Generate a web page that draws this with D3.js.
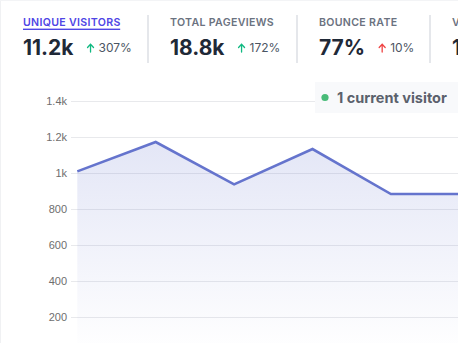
<!DOCTYPE html>
<html><head><meta charset="utf-8">
<script src="https://cdn.jsdelivr.net/npm/d3@7"></script>
<style>
html,body{margin:0;padding:0;background:#fff;overflow:hidden}
svg{display:block;font-family:Inter,"Noto Sans",sans-serif}
</style></head>
<body>
<svg id="c" width="458" height="343"></svg>
<script>
// ---- data ----
const categories = ["Day 1","Day 2","Day 3","Day 4","Day 5","Day 6"];
const visitors = [1009, 1172, 937, 1133, 883, 883];
const yTicks = [200, 400, 600, 800, 1000, 1200, 1400];
const yTickLabels = ["200","400","600","800","1k","1.2k","1.4k"];
const statLabels = ["UNIQUE VISITORS","TOTAL PAGEVIEWS","BOUNCE RATE","VISIT DURATION"];
const statValues = ["11.2k","18.8k","77%","1"];
const statChanges = ["307%","172%","10%",""];
const statGood = [true,true,false,true];
const currentVisitors = "1 current visitor";

const svg = d3.select("#c");
const W = 458, H = 343;

// gradient
const defs = svg.append("defs");
const g = defs.append("linearGradient").attr("id","fillGrad").attr("x1",0).attr("y1",0).attr("x2",0).attr("y2",1);
g.append("stop").attr("offset","0%").attr("stop-color","#6574cd").attr("stop-opacity",0.18);
g.append("stop").attr("offset","100%").attr("stop-color","#6574cd").attr("stop-opacity",0.0);

// card edges
svg.append("rect").attr("x",0).attr("y",0).attr("width",W).attr("height",H).attr("fill","#fff");
svg.append("line").attr("x1",0.5).attr("x2",0.5).attr("y1",0).attr("y2",H).attr("stroke","#f0f1f3");
svg.append("line").attr("x1",0).attr("x2",W).attr("y1",0.5).attr("y2",0.5).attr("stroke","#f3f4f6");

// scales
const y = d3.scaleLinear().domain([0,1400]).range([353,101]);
const x = d3.scalePoint().domain(categories).range([77.3, 77.3 + 78.4*(categories.length-1)]);

// grid + y axis
const axis = d3.axisLeft(y).tickValues(yTicks)
  .tickFormat(d=>yTickLabels[yTicks.indexOf(d)])
  .tickSize(-(W-71)).tickPadding(4);
const ax = svg.append("g").attr("transform","translate(71,0)").call(axis);
ax.select(".domain").remove();
ax.selectAll(".tick line").attr("stroke","#e8e9ec").attr("stroke-width",1);
ax.selectAll(".tick text").attr("fill","#6e6e6e").attr("font-size","11px")
  .attr("font-family","'Liberation Sans',Arial,sans-serif").attr("x",-4);

// area + line
const area = d3.area().x((d,i)=>x(categories[i])).y0(353).y1(d=>y(d));
svg.append("path").datum(visitors).attr("d",area).attr("fill","url(#fillGrad)");
const line = d3.line().x((d,i)=>x(categories[i])).y(d=>y(d));
svg.append("path").datum(visitors).attr("d",line).attr("fill","none")
  .attr("stroke","#6574cd").attr("stroke-width",2.6).attr("stroke-linejoin","miter");

// header stats
const colX = [23, 170, 319, 452];
const divX = [148, 297, 430];
divX.forEach(dx=>{
  svg.append("line").attr("x1",dx).attr("x2",dx).attr("y1",15).attr("y2",63)
    .attr("stroke","#e5e7eb").attr("stroke-width",2);
});
statLabels.forEach((lab,i)=>{
  const t = svg.append("text").attr("x",colX[i]).attr("y",26)
    .attr("font-size","10.6px").attr("font-weight",600).attr("letter-spacing","0.03em")
    .attr("fill", i===0 ? "#4f46e5" : "#6b7280").text(lab);
  if(i===0){
    const w = t.node().getComputedTextLength();
    svg.append("rect").attr("x",colX[i]).attr("y",28.6).attr("width",w-0.5).attr("height",1.4).attr("fill","#4f46e5");
  }
  const v = svg.append("text").attr("x",colX[i]).attr("y",55)
    .attr("font-size","21px").attr("font-weight",700).attr("fill","#1f2937").text(statValues[i]);
  if(statChanges[i]){
    const vw = v.node().getComputedTextLength();
    const ax0 = colX[i] + vw + 17;
    const col = statGood[i] ? "#10b981" : "#ef4444";
    svg.append("path").attr("d",`M${ax0},52 L${ax0},44.5 M${ax0-3},47.5 L${ax0},44.3 L${ax0+3},47.5`)
      .attr("stroke",col).attr("stroke-width",1.3).attr("fill","none").attr("stroke-linecap","round");
    svg.append("text").attr("x",ax0+8).attr("y",52).attr("font-size","12px")
      .attr("fill","#4b5563").text(statChanges[i]);
  }
});

// current visitor box
svg.append("rect").attr("x",315).attr("y",82).attr("width",W-315).attr("height",31).attr("fill","#f8f9fb");
svg.append("circle").attr("cx",325).attr("cy",97.5).attr("r",3.6).attr("fill","#48bb78");
svg.append("text").attr("x",337).attr("y",102.5).attr("font-size","14.5px").attr("font-weight",700)
  .attr("fill","#5b616c").text(currentVisitors);
</script>
</body></html>
